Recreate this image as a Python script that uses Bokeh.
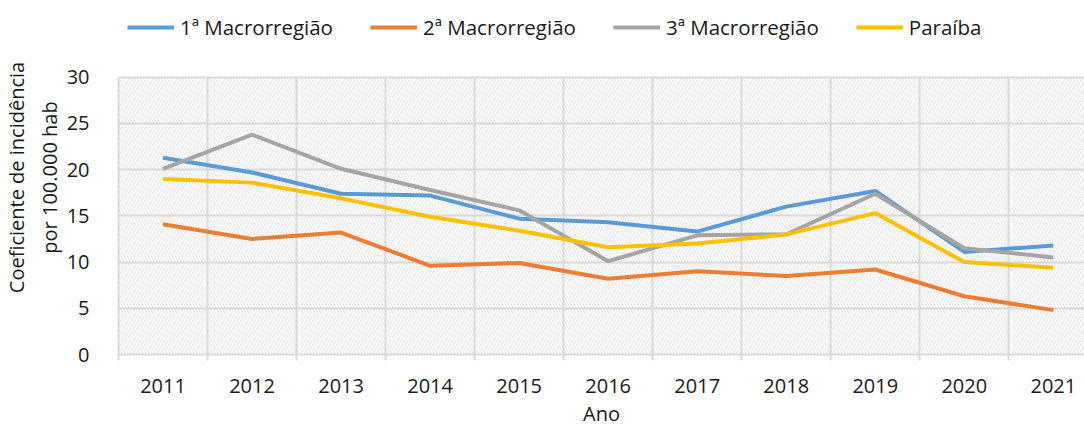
from bokeh.plotting import figure
from bokeh.models import (Legend, LegendItem, FixedTicker, Range1d, BoxAnnotation,
                          ColumnDataSource)
from bokeh.embed import file_html
from bokeh.resources import INLINE

years = [2011, 2012, 2013, 2014, 2015, 2016, 2017, 2018, 2019, 2020, 2021]
macro1 = [21.3, 19.7, 17.4, 17.2, 14.7, 14.3, 13.3, 16.0, 17.7, 11.1, 11.8]
macro2 = [14.1, 12.5, 13.2, 9.6, 9.9, 8.2, 9.0, 8.5, 9.2, 6.3, 4.8]
macro3 = [20.1, 23.8, 20.1, 17.8, 15.6, 10.1, 12.9, 13.0, 17.4, 11.5, 10.5]
paraiba = [19.0, 18.6, 16.9, 14.9, 13.4, 11.6, 12.0, 13.0, 15.3, 10.0, 9.4]
series_names = ["1ª Macrorregião", "2ª Macrorregião", "3ª Macrorregião", "Paraíba"]
series_colors = ["#5B9BD5", "#ED7D31", "#A5A5A5", "#FFC000"]
y_ticks = [0, 5, 10, 15, 20, 25, 30]

FONT = "Open Sans"
TXT = "#1a1a1a"
GRID = "#d9d9d9"
FS = "20px"

W, H = 1084, 429
LEFT, BOTTOM = 114, 74
cat_px = 89.4
frame_w = W - LEFT
x_start = years[0] - 0.5
x_end = x_start + frame_w / cat_px
px_per_unit = 278 / 30
frame_h = H - BOTTOM
y_end = frame_h / px_per_unit

p = figure(width=W, height=H, output_backend="svg", toolbar_location=None,
           x_range=Range1d(x_start, x_end), y_range=Range1d(0, y_end),
           min_border_left=LEFT, min_border_right=0, min_border_top=0,
           min_border_bottom=BOTTOM)
p.outline_line_color = None
p.background_fill_color = "white"
p.border_fill_color = "white"

bg = BoxAnnotation(bottom=0, top=y_ticks[-1], fill_color="#fdfdfd", fill_alpha=1.0,
                   line_color=None, hatch_pattern="\\", hatch_color="#cccccc",
                   hatch_alpha=0.5, hatch_weight=1, hatch_scale=6, level="image")
p.add_layout(bg)

renderers = []
for vals, col in zip([macro1, macro2, macro3, paraiba], series_colors):
    src = ColumnDataSource(dict(x=years, y=vals))
    r = p.line("x", "y", source=src, line_color=col, line_width=4)
    renderers.append(r)

boundaries = [y - 0.5 for y in years] + [years[-1] + 0.5]

# x axis
xa = p.xaxis[0]
xa.ticker = FixedTicker(ticks=years, minor_ticks=boundaries)
xa.major_tick_line_color = None
xa.major_tick_out = 0
xa.major_tick_in = 0
xa.minor_tick_line_color = GRID
xa.minor_tick_line_width = 2
xa.minor_tick_out = 6
xa.minor_tick_in = 0
xa.axis_line_color = GRID
xa.axis_line_width = 2
xa.major_label_text_font = FONT
xa.major_label_text_font_size = FS
xa.major_label_text_color = TXT
xa.major_label_standoff = 18
xa.axis_label = "Ano"
xa.axis_label_text_font = FONT
xa.axis_label_text_font_size = FS
xa.axis_label_text_font_style = "normal"
xa.axis_label_text_color = TXT
xa.axis_label_standoff = 4

# y axis
ya = p.yaxis[0]
ya.ticker = FixedTicker(ticks=y_ticks)
ya.bounds = (y_ticks[0], y_ticks[-1])
ya.major_tick_line_color = None
ya.minor_tick_line_color = None
ya.major_tick_out = 0
ya.axis_line_color = GRID
ya.axis_line_width = 2
ya.major_label_text_font = FONT
ya.major_label_text_font_size = FS
ya.major_label_text_color = TXT
ya.major_label_standoff = 29
ya.axis_label = "Coeficiente de incidência\npor 100.000 hab"
ya.axis_label_text_font = FONT
ya.axis_label_text_font_size = FS
ya.axis_label_text_font_style = "normal"
ya.axis_label_text_color = TXT
ya.axis_label_text_line_height = 1.2
ya.axis_label_standoff = 1

p.xgrid[0].ticker = FixedTicker(ticks=boundaries)
p.xgrid[0].cross_bounds = (y_ticks[0], y_ticks[-1])
p.xgrid[0].grid_line_color = GRID
p.xgrid[0].grid_line_width = 2
p.ygrid[0].ticker = FixedTicker(ticks=y_ticks)
p.ygrid[0].grid_line_color = GRID
p.ygrid[0].grid_line_width = 2

legend = Legend(items=[LegendItem(label=n, renderers=[r]) for n, r in zip(series_names, renderers)],
                orientation="horizontal", location=(9, 313),
                label_text_font=FONT, label_text_font_size="20.5px", label_text_color=TXT,
                glyph_width=47, glyph_height=22, label_standoff=6, spacing=37,
                border_line_color=None, background_fill_alpha=0, padding=0, margin=0)
p.add_layout(legend, "center")

open("out.html", "w").write(file_html(p, INLINE))
